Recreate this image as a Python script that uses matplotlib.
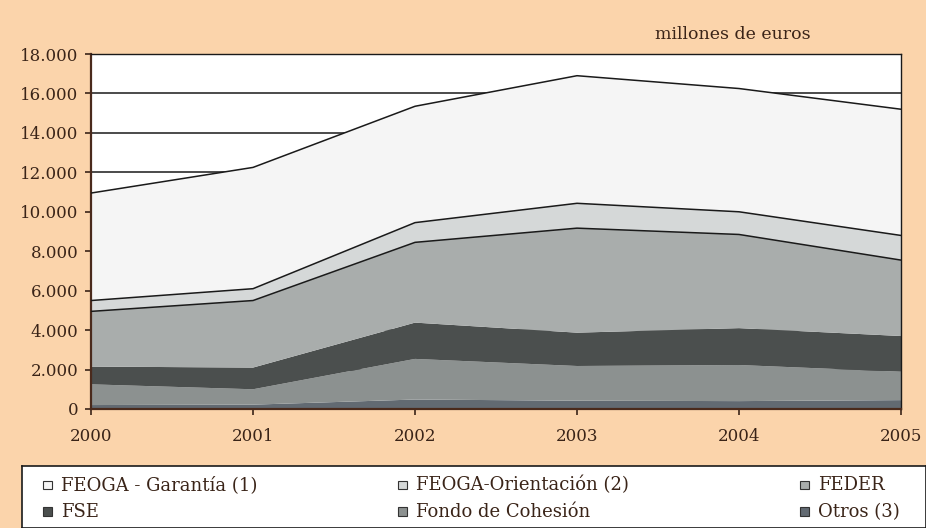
import matplotlib.pyplot as plt
from matplotlib.patches import Rectangle
import numpy as np

# Fondos europeos, millones de euros
years = [2000, 2001, 2002, 2003, 2004, 2005]
otros = [200, 220, 480, 420, 400, 450]
cohesion = [1050, 780, 2060, 1760, 1830, 1440]
fse = [900, 1100, 1840, 1690, 1870, 1810]
feder = [2800, 3400, 4070, 5300, 4750, 3850]
orientacion = [550, 600, 1000, 1260, 1150, 1250]
garantia = [5450, 6150, 5900, 6470, 6250, 6400]

labels = ["FEOGA - Garantía (1)", "FEOGA-Orientación (2)", "FEDER",
          "FSE", "Fondo de Cohesión", "Otros (3)"]
yticks = [0, 2000, 4000, 6000, 8000, 10000, 12000, 14000, 16000, 18000]
ytick_labels = ["0", "2.000", "4.000", "6.000", "8.000", "10.000",
                "12.000", "14.000", "16.000", "18.000"]

bg = "#fbd4ab"
txt = "#3a2418"
colors_stack = ["#626a72", "#8c9190", "#4b4f4e", "#a9adac", "#d5d8d8", "#f5f5f5"]

plt.rcParams['font.family'] = ['DejaVu Serif']

fig = plt.figure(figsize=(9.26, 5.28), dpi=100, facecolor=bg)
ax = fig.add_axes([0.0983, 0.2254, 0.8747, 0.6723])
ax.set_facecolor("white")

series = [otros, cohesion, fse, feder, orientacion, garantia]
ax.stackplot(years, *series, colors=colors_stack, linewidth=0, zorder=2)

# black outlines on the three upper boundaries
cum = np.cumsum(np.array(series), axis=0)
for i in (3, 4, 5):
    ax.plot(years, cum[i], color="#1a1a1a", linewidth=1.1, zorder=3)

ax.set_xlim(2000, 2005)
ax.set_ylim(0, 18000)
ax.set_yticks(yticks)
ax.set_yticklabels(ytick_labels)
ax.set_xticks(years)
ax.set_xticklabels([str(y) for y in years])
ax.yaxis.grid(True, color="#1a1a1a", linewidth=1.1)
ax.set_axisbelow(True)
ax.tick_params(axis="both", colors=txt, labelsize=12, length=4, width=1.2, direction="out")
ax.tick_params(axis="y", pad=5)
ax.tick_params(axis="x", pad=10)
for sp in ["left", "bottom"]:
    ax.spines[sp].set_color("#4a2a1c")
    ax.spines[sp].set_linewidth(1.6)
for sp in ["top", "right"]:
    ax.spines[sp].set_color("#1a1a1a")
    ax.spines[sp].set_linewidth(1.0)

fig.text(0.875, 0.935, "millones de euros", ha="right", va="center", fontsize=12.5, color=txt)

# legend box at the bottom
lax = fig.add_axes([0.024, 0.0, 0.976, 0.118])
lax.set_xlim(0, 1)
lax.set_ylim(0, 1)
lax.set_facecolor("white")
for sp in lax.spines.values():
    sp.set_color("#1a1a1a")
    sp.set_linewidth(1.2)
lax.set_xticks([])
lax.set_yticks([])

leg_colors = [colors_stack[5], colors_stack[4], colors_stack[3],
              colors_stack[2], colors_stack[1], colors_stack[0]]
mark_x = [0.023, 0.416, 0.861]
text_x = [0.043, 0.436, 0.880]
row_y = [0.69, 0.26]
for k, lab in enumerate(labels):
    r, c = divmod(k, 3)
    lax.add_patch(Rectangle((mark_x[c], row_y[r] - 0.07), 0.0095, 0.14,
                            facecolor=leg_colors[k], edgecolor="#333333", linewidth=0.8))
    lax.text(text_x[c], row_y[r], lab, ha="left", va="center",
             fontsize=13, color=txt)

fig.savefig("out.png", dpi=100, facecolor=bg)
